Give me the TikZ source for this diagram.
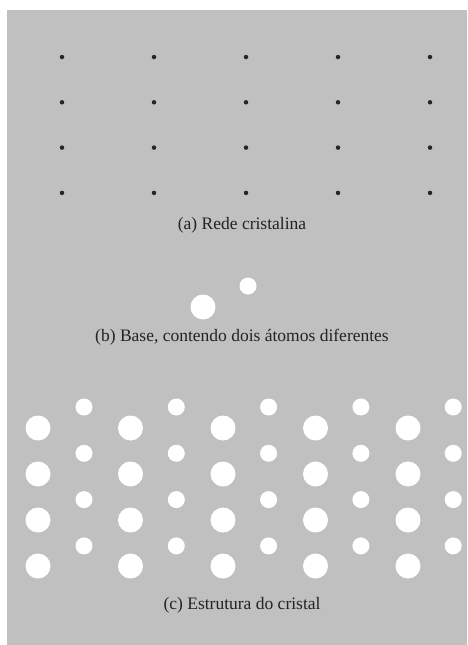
\documentclass[tikz,border=0pt]{standalone}
\usepackage{fontspec}
\setmainfont{Liberation Serif}
\definecolor{panel}{RGB}{192,192,192}
\definecolor{ink}{RGB}{35,35,35}
\tikzset{
  latpt/.style={circle,fill=black!85,inner sep=0pt,minimum size=4.5pt},
  bigatom/.style={circle,fill=white,inner sep=0pt,minimum size=25pt},
  smallatom/.style={circle,fill=white,inner sep=0pt,minimum size=17pt},
  caption/.style={text=ink,font=\fontsize{17.5}{20}\selectfont,inner sep=0pt}
}
\begin{document}
\begin{tikzpicture}[x=1pt,y=-1pt]
  \useasboundingbox (0,0) rectangle (467,645);
  \fill[white] (0,0) rectangle (467,645);
  \fill[panel] (7,10) rectangle (467,645);

  % (a) lattice points
  \foreach \i in {0,...,4}{
    \foreach \j in {0,...,3}{
      \node[latpt] (p\i\j) at ({62+92*\i},{57+45.3*\j}) {};
    }
  }
  \node[caption] (capa) at (242,225) {(a) Rede cristalina};

  % (b) basis of two different atoms
  \node[bigatom] (bA) at (203,307) {};
  \node[smallatom] (bB) at (248,286) {};
  \node[caption] (capb) at (242,337) {(b) Base, contendo dois átomos diferentes};

  % (c) crystal = lattice + basis
  \foreach \i in {0,...,4}{
    \foreach \j in {0,...,3}{
      \node[bigatom] (A\i\j) at ({38+92.5*\i},{428+46*\j}) {};
      \node[smallatom] (B\i\j) at ({84+92.3*\i},{407+46.3*\j}) {};
    }
  }
  \node[caption] (capc) at (242,605) {(c) Estrutura do cristal};
\end{tikzpicture}
\end{document}
